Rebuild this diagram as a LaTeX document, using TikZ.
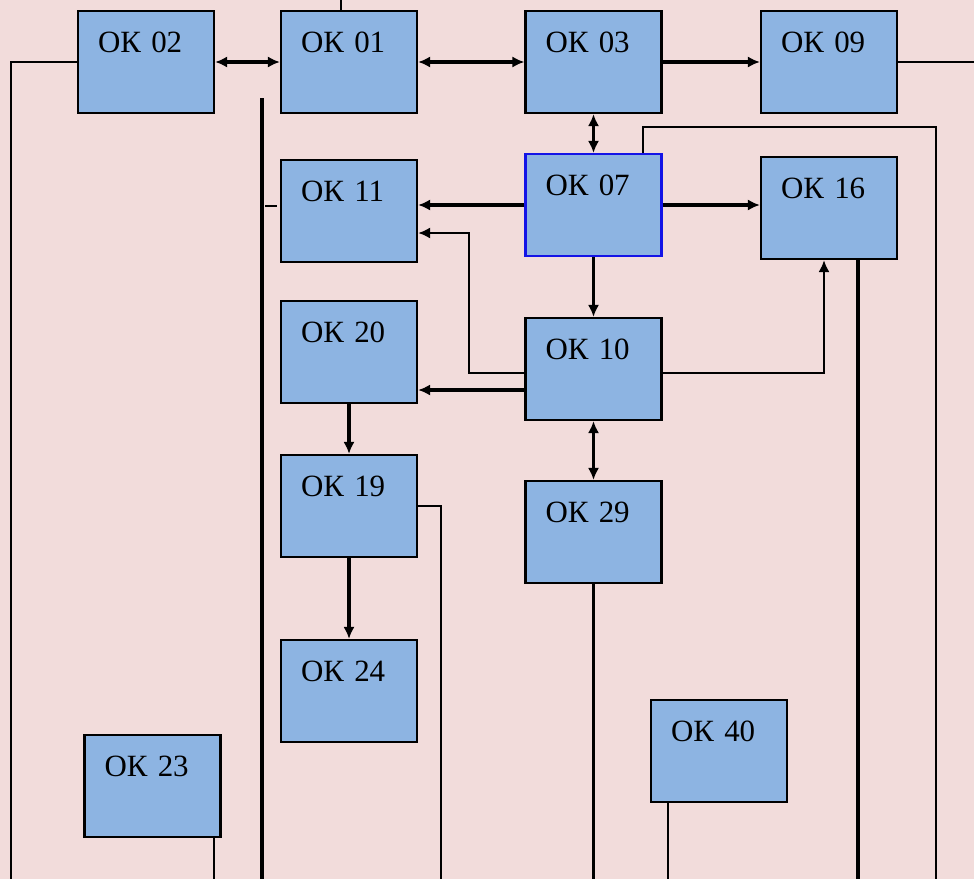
\documentclass[tikz,border=0pt]{standalone}
\usepackage{fontspec}
\setmainfont{Liberation Serif}
\usetikzlibrary{arrows.meta}

\definecolor{bgpink}{HTML}{F2DCDB}
\definecolor{okblue}{HTML}{8DB4E2}
\definecolor{okedge}{HTML}{1414E6}

\tikzset{
  okbox/.style={draw, fill=okblue, line width=0.55mm,
    minimum width=34mm, minimum height=25.5mm,
    text width=24mm, inner xsep=5mm, align=left,
    text height=5mm, text depth=10mm,
    font=\fontsize{22}{25}\selectfont},
  arr/.style={line width=0.85mm, -{Latex[length=3mm,width=2.8mm]}},
  darr/.style={line width=0.85mm, {Latex[length=3mm,width=2.8mm]}-{Latex[length=3mm,width=2.8mm]}},
  thinln/.style={line width=0.5mm},
  thickln/.style={line width=0.85mm}
}

\begin{document}
\begin{tikzpicture}[x=0.25mm, y=-0.25mm]
        % 背景
        \fill[bgpink] (0,0) rectangle (974,879);
        \useasboundingbox (0,0) rectangle (974,879);

        % 方框
        \node[okbox] (ok02) at (146,62) {ОК 02};
        \node[okbox] (ok01) at (349,62) {ОК 01};
        \node[okbox] (ok03) at (593.5,62) {ОК 03};
        \node[okbox] (ok09) at (829,62) {ОК 09};
        \node[okbox, draw=okedge] (ok07) at (593.5,205) {ОК 07};
        \node[okbox] (ok11) at (349,211) {ОК 11};
        \node[okbox] (ok16) at (829,208) {ОК 16};
        \node[okbox] (ok20) at (349,352) {ОК 20};
        \node[okbox] (ok10) at (593.5,369) {ОК 10};
        \node[okbox] (ok19) at (349,506) {ОК 19};
        \node[okbox] (ok29) at (593.5,532) {ОК 29};
        \node[okbox] (ok24) at (349,691) {ОК 24};
        \node[okbox] (ok23) at (152.5,786) {ОК 23};
        \node[okbox] (ok40) at (719,751) {ОК 40};

        % 辅助点
        \coordinate (t1) at (341,0);       % ОК 01 上方
        \coordinate (e2) at (11,879);      % ОК 02 左线
        \coordinate (e9) at (974,62);      % ОК 09 右线
        \coordinate (c7) at (643,127);     % ОК 07 上折线
        \coordinate (e7) at (936,879);
        \coordinate (k1) at (469,233);     % ОК 10 -> ОК 11
        \coordinate (t20) at (417,390);    % ОК 10 -> ОК 20
        \coordinate (k16) at (824,373);    % ОК 10 -> ОК 16
        \coordinate (e19) at (441,879);    % ОК 19 右线
        \coordinate (v1) at (262,98);      % 长竖线
        \coordinate (v2) at (262,879);
        \coordinate (s11) at (265,206);

        % 第一行
        \draw[darr] (ok02.east) -- (ok01.west);
        \draw[darr] (ok01.east) -- (ok03.west);
        \draw[arr] (ok03.east) -- (ok09.west);
        \draw[thinln] (ok09.east) -- (e9);
        \draw[thinln] (ok02.west) -| (e2);
        \draw[thinln] (t1 |- ok01.north) -- (t1);

        % ОК 07
        \draw[darr] (ok03.south) -- (ok07.north);
        \draw[arr] (ok07.west) -- (ok11.east |- ok07.west);
        \draw[arr] (ok07.east) -- (ok16.west |- ok07.east);
        \draw[arr] (ok07.south) -- (ok10.north);
        \draw[thinln] (c7 |- ok07.north) -- (c7) -| (e7);

        % ОК 10
        \draw[arr, line width=0.6mm] (ok10.west |- k16) -| (k1) -- (ok11.east |- k1);
        \draw[arr] (ok10.west |- t20) -- (ok20.east |- t20);
        \draw[arr, line width=0.6mm] (ok10.east |- k16) -| (ok16.south -| k16);
        \draw[darr] (ok10.south) -- (ok29.north);

        % 左列
        \draw[arr] (ok20.south) -- (ok19.north);
        \draw[arr] (ok19.south) -- (ok24.north);
        \draw[thinln] (ok19.east) -| (e19);

        % 向下的线
        \draw[thickln] (v1) -- (v2);
        \draw[thinln] (s11) -- ([xshift=-0.75mm]ok11.west |- s11);
        \draw[thickln] (ok29.south) -- (ok29.south |- v2);
        \draw[thickln] (ok16.south -| 858,0) -- (858,879);
        \draw[thinln] (ok40.south -| 668,0) -- (668,879);
        \draw[thinln] (ok23.south -| 214,0) -- (214,879);
\end{tikzpicture}
\end{document}
